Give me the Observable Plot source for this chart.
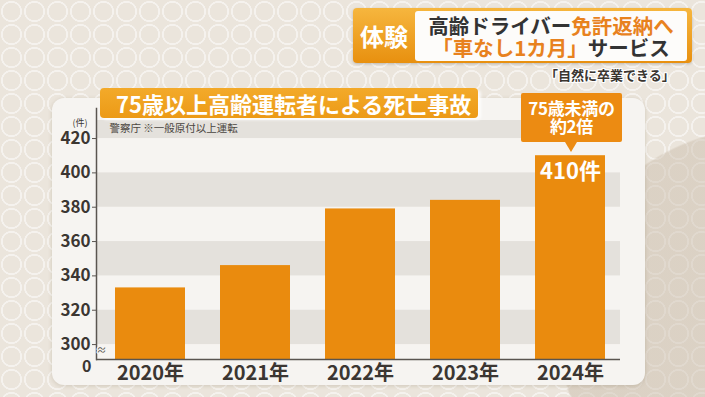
<!DOCTYPE html>
<html><head><meta charset="utf-8">
<script src="https://cdn.jsdelivr.net/npm/d3@7"></script>
<script src="https://cdn.jsdelivr.net/npm/@observablehq/plot@0.6"></script>
<style>
html,body{margin:0;padding:0;}
body{width:705px;height:397px;overflow:hidden;position:relative;font-family:"Noto Sans CJK JP",sans-serif;background:#ebe5dc;}
#bg{position:absolute;left:0;top:0;width:705px;height:397px;
 background-image:radial-gradient(circle at 760px 330px, rgba(200,186,168,0.45) 0px, rgba(200,186,168,0.45) 200px, rgba(200,186,168,0) 202px),
 radial-gradient(circle, rgba(255,255,255,0) 8.5px, rgba(255,255,255,0.5) 9px, rgba(255,255,255,0.5) 10.3px, rgba(255,255,255,0) 10.8px);
 background-size:auto, 23px 23px;}
#panel{position:absolute;left:52px;top:98px;width:593px;height:287px;border-radius:12px;background:#f6f4f1;box-shadow:0 1px 4px rgba(90,70,40,0.18);}
#chart{position:absolute;left:0;top:0;}
#title{position:absolute;left:100px;top:88px;width:378px;height:30px;border-radius:4px;background:linear-gradient(#f3aa2a,#ec9a16);color:#fff;font-weight:bold;font-size:22px;line-height:30px;padding-left:16px;box-sizing:border-box;white-space:nowrap;box-shadow:3px 2px 3px rgba(255,255,255,0.8);}
#callout{position:absolute;left:521px;top:93px;width:101px;height:49px;background:#ec8b12;color:#fff;font-weight:bold;font-size:17px;line-height:18px;text-align:center;box-sizing:border-box;padding-top:6px;border-radius:2px;white-space:nowrap;letter-spacing:-0.3px;}
#callout:after{content:"";position:absolute;left:44px;top:49px;border-left:6px solid transparent;border-right:6px solid transparent;border-top:10px solid #ec8b12;}
#hdr{position:absolute;left:353px;top:8px;width:339px;height:55px;border-radius:4px;background:linear-gradient(#f6b63e,#e8900f);box-shadow:0 1px 3px rgba(0,0,0,0.2);}
#hdrTag{position:absolute;left:353px;top:8px;width:62px;height:55px;color:#fff;font-weight:bold;font-size:24px;line-height:55px;text-align:center;}
#hdrBox{position:absolute;left:415px;top:11px;width:272px;height:50px;border-radius:3px;background:#fdfcfa;text-align:center;font-weight:bold;font-size:20.5px;line-height:21.5px;padding-top:4px;box-sizing:border-box;color:#333;white-space:nowrap;}
.or{color:#e8821e;}
#sub{position:absolute;left:545px;top:66px;font-size:13px;font-weight:bold;color:#3a3530;line-height:18px;white-space:nowrap;
 text-shadow:1px 0 #fff,-1px 0 #fff,0 1px #fff,0 -1px #fff,1px 1px #fff,-1px -1px #fff,1px -1px #fff,-1px 1px #fff;}
</style></head><body>
<div id="bg"></div>
<div id="panel"></div>
<div id="chart"></div>
<div id="title">75歳以上高齢運転者による死亡事故</div>
<div id="callout">75歳未満の<br>約2倍</div>
<div id="hdr"></div>
<div id="hdrTag">体験</div>
<div id="hdrBox">高齢ドライバー<span class="or">免許返納へ</span><br><span class="or">「車なし1カ月」</span>サービス</div>
<div id="sub">「自然に卒業できる」</div>
<script>
const years = ["2020年", "2021年", "2022年", "2023年", "2024年"];
const deaths = [333, 346, 379, 384, 410];
const yTicks = [300, 320, 340, 360, 380, 400, 420];
const stripeLow = [420, 380, 340, 300];
const stripeHigh = [430.5, 400, 360, 320];
const axisBreakValue = 291.3;   // position of the "0" label below the axis break
const yTop = 437.5;
const unitLabel = "(件)";
const sourceNote = "警察庁 ※一般原付以上運転";

const data = years.map((year, i) => ({year, value: deaths[i]}));
const stripes = stripeLow.map((lo, i) => ({lo, hi: stripeHigh[i]}));
const ink = "#3b3632";

const chart = Plot.plot({
  width: 705, height: 397,
  marginLeft: 96, marginRight: 85, marginTop: 108, marginBottom: 38,
  style: {background: "transparent", fontFamily: "'Noto Sans CJK JP', sans-serif", color: ink, overflow: "visible"},
  x: {domain: years, paddingInner: 0.33, paddingOuter: 0.14, align: 0.57, label: null},
  y: {domain: [axisBreakValue, yTop], label: null},
  marks: [
    Plot.rect(stripes, {y1: "lo", y2: "hi", fill: "#e4e1dc"}),
    Plot.barY(data, {x: "year", y1: axisBreakValue, y2: "value", fill: "#ea8b0e"}),
    Plot.ruleY([axisBreakValue], {stroke: "#5a5550", strokeWidth: 1.5}),
    Plot.frame({anchor: "left", stroke: "#5a5550", strokeWidth: 1.5}),
    Plot.axisY({ticks: yTicks, tickSize: 4, tickPadding: 2, fontSize: 17, fontWeight: "bold", label: null, stroke: "#5a5550"}),
    Plot.axisX({tickSize: 0, tickPadding: 6, fontSize: 20, fontWeight: "bold", label: null}),
    Plot.text(["0"], {frameAnchor: "bottom-left", textAnchor: "end", lineAnchor: "middle", dx: -5, dy: 7, fontSize: 16, fontWeight: "bold", fill: ink}),
    Plot.text(["≈"], {frameAnchor: "bottom-left", dy: -6, fontSize: 10, fill: "#5a5550", stroke: "#f6f4f1", strokeWidth: 2.5}),
    Plot.text([unitLabel], {frameAnchor: "top-left", textAnchor: "end", dx: -9, dy: 11, fontSize: 9, fill: ink}),
    Plot.text([sourceNote], {frameAnchor: "top-left", textAnchor: "start", dx: 13, dy: 16, fontSize: 10.5, fill: "#4a4540"}),
    Plot.text(data, Plot.selectLast({x: "year", y: "value", text: d => `${d.value}件`, dy: 16, fill: "white", fontSize: 22, fontWeight: "bold"}))
  ]
});
document.getElementById("chart").appendChild(chart);
</script>
</body></html>
